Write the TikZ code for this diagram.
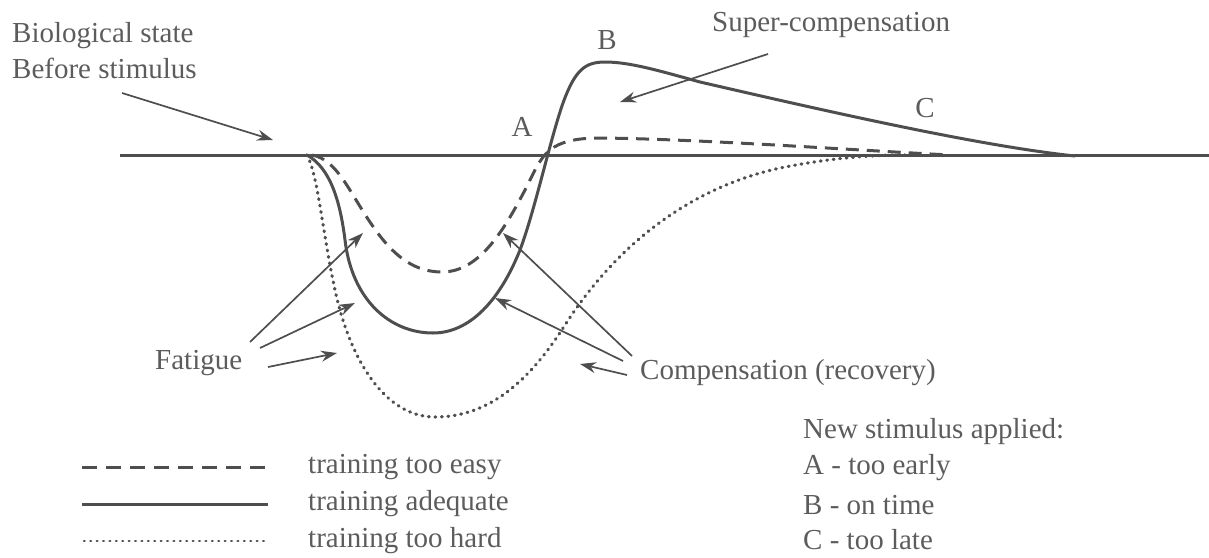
\documentclass[tikz,border=0pt]{standalone}
\usepackage{fontspec}
\setmainfont{Liberation Serif}
\usetikzlibrary{arrows.meta}
\definecolor{ink}{RGB}{78,78,78}
\definecolor{txt}{RGB}{92,92,92}
\begin{document}
\begin{tikzpicture}[x=1pt,y=-1pt,
  curve/.style={ink, line width=3pt, line cap=round, line join=round},
  easy/.style={ink, line width=3pt, dash pattern=on 13pt off 8pt},
  hard/.style={ink, line width=3.2pt, line cap=round, dash pattern=on 0.8pt off 5.7pt},
  pointer/.style={ink, line width=1.7pt, -{Stealth[length=16pt,width=11pt]}},
  lbl/.style={txt, font=\fontsize{29}{36}\selectfont, inner sep=0pt},
]
\useasboundingbox (0,0) rectangle (1209,557);

% baseline
\coordinate (b0) at (120,155);
\coordinate (b1) at (1209,155);
\draw[curve, line cap=butt] (b0) -- (b1);

% training adequate
\draw[curve] (307,155) .. controls (330,168) and (340,200) .. (345,240)
  .. controls (352,300) and (390,333) .. (433,333)
  .. controls (470,333) and (500,300) .. (520,250)
  .. controls (535,210) and (550,140) .. (563,103)
  .. controls (575,70) and (585,62) .. (605,62)
  .. controls (630,62) and (660,71) .. (700,82)
  .. controls (830,112) and (980,146) .. (1075,156);

% training too easy
\draw[easy] (312,155) .. controls (340,160) and (352,200) .. (380,236)
  .. controls (400,262) and (420,272) .. (442,272)
  .. controls (480,272) and (505,228) .. (525,190)
  .. controls (535,170) and (540,158) .. (550,150)
  .. controls (560,142) and (575,138) .. (600,138)
  .. controls (700,139) and (850,150) .. (950,155);

% training too hard
\draw[hard] (307,155) .. controls (318,175) and (322,230) .. (335,290)
  .. controls (350,360) and (385,417) .. (435,417)
  .. controls (490,417) and (530,380) .. (565,325)
  .. controls (610,255) and (680,190) .. (780,168)
  .. controls (830,158) and (870,155) .. (905,155);

% labels
\node[lbl, anchor=west, align=left] (bio) at (12,51) {Biological state\\Before stimulus};
\node[lbl] (A) at (522,127) {A};
\node[lbl] (B) at (607,40) {B};
\node[lbl] (C) at (925,108) {C};
\node[lbl, anchor=west] (super) at (712,25) {Super-compensation};
\node[lbl, anchor=west] (fat) at (155,363) {Fatigue};
\node[lbl, anchor=west] (comp) at (640,373) {Compensation (recovery)};

% pointer ends
\coordinate (bioS) at (122,93);   \coordinate (bioT) at (273,140);
\coordinate (supS) at (768,54);   \coordinate (supT) at (620,102);
\coordinate (f1S) at (250,342);   \coordinate (f1T) at (363,233);
\coordinate (f2S) at (260,348);   \coordinate (f2T) at (355,303);
\coordinate (f3S) at (268,367);   \coordinate (f3T) at (337,353);
\coordinate (c1S) at (632,356);   \coordinate (c1T) at (503,233);
\coordinate (c2S) at (623,361);   \coordinate (c2T) at (495,298);
\coordinate (c3S) at (627,375);   \coordinate (c3T) at (580,364);

\foreach \s/\t in {bioS/bioT, supS/supT, f1S/f1T, f2S/f2T, f3S/f3T, c1S/c1T, c2S/c2T, c3S/c3T}
  \draw[pointer] (\s) -- (\t);

% legend
\coordinate (l1a) at (82,467);  \coordinate (l1b) at (268,467);
\coordinate (l2a) at (82,504);  \coordinate (l2b) at (268,504);
\coordinate (l3a) at (84,541);  \coordinate (l3b) at (268,541);
\draw[easy, dash pattern=on 15pt off 9pt] (l1a) -- (l1b);
\draw[curve, line cap=butt] (l2a) -- (l2b);
\draw[hard, line width=2.6pt, dash pattern=on 0.6pt off 5.8pt] (l3a) -- (l3b);
\node[lbl, anchor=west] (leasy) at (308,467) {training too easy};
\node[lbl, anchor=west] (ladeq) at (308,504) {training adequate};
\node[lbl, anchor=west] (lhard) at (308,541) {training too hard};

\node[lbl, anchor=west] (ns) at (803,432) {New stimulus applied:};
\node[lbl, anchor=west] (nsA) at (803,468) {A - too early};
\node[lbl, anchor=west] (nsB) at (803,505) {B - on time};
\node[lbl, anchor=west] (nsC) at (803,540) {C - too late};
\end{tikzpicture}
\end{document}
